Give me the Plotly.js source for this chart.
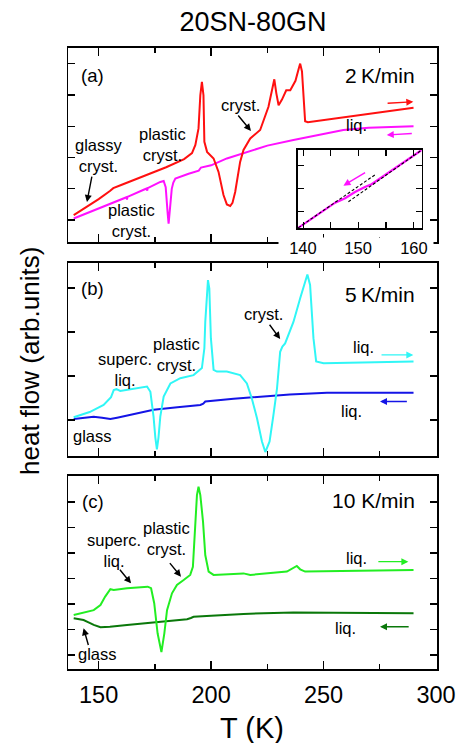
<!DOCTYPE html>
<html><head><meta charset="utf-8">
<script src="https://cdn.plot.ly/plotly-3.0.1.min.js"></script>
<style>html,body{margin:0;padding:0;background:#fff}#chart{width:462px;height:743px}</style>
</head><body><div id="chart"></div>
<script>
// ---------- data (T in K, heat flow in arb. units) ----------
// (a) 2 K/min
const T_a_heat = [138.9,145,150,155,156.5,160,170,180,188,191.5,193.0,194.4,195.2,195.9,196.6,197.0,198.2,201.1,203.3,205.5,207.0,208.5,209.5,210.7,212.9,214.4,217.4,221.8,225.5,227.3,228.1,229.0,230.0,231.5,233.4,235.2,237.5,239.0,239.6,240.4,241.2,241.8,243.0,260.0,290.0];
const Q_a_heat = [0.16,0.44,0.67,0.93,1.02,1.12,1.41,1.69,1.95,2.14,2.40,2.93,3.99,4.42,3.99,2.50,2.18,1.97,1.54,0.80,0.50,0.45,0.55,0.90,1.86,2.24,2.61,2.88,3.62,4.25,4.50,4.05,3.67,3.85,4.15,4.15,4.45,4.85,5.00,4.75,3.90,3.16,3.13,3.30,3.59];
const T_a_cool = [138.9,150,160,162.4,162.6,162.8,170,171.4,171.6,171.8,177.4,178.9,179.8,180.3,180.7,181.1,181.5,181.9,182.5,183.2,184.1,190,194.5,195.5,200,207,213.7,225,236.6,250,258.8,270,290];
const Q_a_cool = [0.05,0.37,0.67,0.73,0.66,0.74,0.97,1.01,0.94,1.02,1.22,1.25,1.05,0.70,0.20,-0.11,0.20,0.70,1.00,1.20,1.33,1.48,1.58,1.68,1.75,1.97,2.13,2.38,2.56,2.75,2.88,2.95,3.00];
// inset of (a)
const T_inset = [139.1,145.8,147.6,149.4,151.2,152.4,161.5];
const Q_inset = [-0.69,0.39,0.58,0.85,1.06,1.18,2.65];
const T_fitLow = [139.1,153.0];
const Q_fitLow = [-0.69,1.58];
const T_fitHigh = [148.2,161.5];
const Q_fitHigh = [0.43,2.65];
const insetTickLabels = [140,150,160];
// (b) 5 K/min
const T_b_heat = [138.9,146,152.2,155.5,156.7,157.9,159.6,165,171.5,173.0,174.4,175.2,175.9,176.6,177.4,178.9,181.9,186.3,192.2,195.9,197.0,197.4,198.2,198.6,199.2,199.9,201.1,202.6,207.0,212.9,215.9,218.1,220.4,222.6,224.1,226.0,227.7,229.3,230.7,231.7,232.9,236.6,239.6,241.8,242.8,244.0,245.5,246.7,250.0,290.0];
const Q_b_heat = [0.06,0.18,0.34,0.52,0.68,0.70,0.66,0.70,0.76,0.64,0.075,-0.40,-0.67,-0.40,0.075,0.53,0.83,0.95,1.02,1.18,1.63,2.23,2.99,3.18,2.99,1.86,1.14,1.10,1.10,1.02,0.83,0.49,0.04,-0.49,-0.73,-0.49,0.11,0.72,1.55,1.67,1.74,2.23,2.77,3.18,3.31,3.07,1.86,1.33,1.29,1.33];
const T_b_cool = [138.9,143,147.8,151.5,155.2,158.2,165,174.4,185,195.2,196.5,197.4,210,221.8,235,251.5,270,290];
const Q_b_cool = [0.02,0.05,0.075,0.05,0.02,0.05,0.12,0.23,0.29,0.34,0.37,0.42,0.48,0.53,0.58,0.62,0.62,0.62];
// (c) 10 K/min
const T_c_heat = [138.9,147.8,150.8,152.9,155.2,156.7,162.6,171.8,173.3,174.7,176.2,177.9,179.2,180.4,182.6,184.8,187.8,190.7,191.9,193.0,193.7,194.4,195.2,196.4,197.4,198.9,201.1,214.4,217.4,233.7,236.6,238.1,239.6,241.8,290.0];
const Q_c_heat = [1.57,1.76,1.96,2.29,2.58,2.55,2.62,2.68,2.62,2.03,0.85,0.11,0.85,1.76,2.42,2.75,2.94,3.14,3.46,5.23,6.27,6.60,6.27,5.23,3.92,3.27,3.14,3.20,3.14,3.27,3.40,3.49,3.36,3.27,3.33];
const T_c_cool = [138.9,141,143.3,145.5,147.8,150.8,155,162.6,177.4,189.3,191.0,192.2,200,214.4,236.6,260,290];
const Q_c_cool = [1.44,1.42,1.37,1.28,1.18,1.09,1.11,1.18,1.31,1.40,1.45,1.50,1.54,1.61,1.67,1.66,1.64];

// ---------- layout helpers ----------
const W = 462, H = 743;
const FONT = 'Liberation Sans, Arial, Helvetica, sans-serif';
const fx = p => p / W;
const fy = p => 1 - p / H;
const XL = 68.3, XR = 436.7;
const panels = [{top:48, bot:242, range:[-0.7,5.5]}, {top:263, bot:456, range:[-0.82,3.57]}, {top:476, bot:669, range:[-0.55,7.02]}];

function mkX(anchor, labels){
  return {domain:[fx(XL), fx(XR)], anchor:anchor, range:[136.5,300.3], tick0:150, dtick:50,
    ticks:'inside', ticklen:8, tickwidth:1.3, tickcolor:'#000', showline:true, linecolor:'#000', linewidth:1.8,
    mirror:'ticks', showgrid:false, zeroline:false, showticklabels:labels, ticklabelstandoff:4,
    tickfont:{size:23.5, color:'#000', family:FONT},
    minor:{tick0:150, dtick:25, ticks:'inside', ticklen:5, tickwidth:1.3, tickcolor:'#000', showgrid:false}};
}
function mkY(anchor, p){
  return {domain:[fy(p.bot), fy(p.top)], anchor:anchor, range:p.range, tick0:0, dtick:1,
    ticks:'inside', ticklen:7, tickwidth:1.3, tickcolor:'#000', showline:true, linecolor:'#000', linewidth:1.8,
    mirror:'ticks', showgrid:false, zeroline:false, showticklabels:false};
}

const line = (x, y, xa, ya, color, w, dash) => ({x:x, y:y, xaxis:xa, yaxis:ya, mode:'lines', hoverinfo:'skip',
  line:{color:color, width:w||2, dash:dash||'solid'}});

const RED='#ff1010', MAG='#ff10ff', CYAN='#30f6f6', BLUE='#1414e6', LGREEN='#22ee22', DGREEN='#0a780a';

const data = [
  line(T_a_cool, Q_a_cool, 'x', 'y', MAG),
  line(T_a_heat, Q_a_heat, 'x', 'y', RED),
  line(T_b_cool, Q_b_cool, 'x2', 'y2', BLUE),
  line(T_b_heat, Q_b_heat, 'x2', 'y2', CYAN),
  line(T_c_cool, Q_c_cool, 'x3', 'y3', DGREEN),
  line(T_c_heat, Q_c_heat, 'x3', 'y3', LGREEN),
  line(T_inset, Q_inset, 'x4', 'y4', MAG, 2.2),
  line(T_fitLow, Q_fitLow, 'x4', 'y4', '#000', 1.1, '3px,2px'),
  line(T_fitHigh, Q_fitHigh, 'x4', 'y4', '#000', 1.1, '3px,2px')
];

const ann = [];
function txt(s, x, y, k, size, xanchor){
  ann.push({text:s, x:x, y:y, xref:'x'+k, yref:'y'+k, showarrow:false, xanchor:xanchor||'center', yanchor:'middle',
    font:{size:size||16.5, color:'#000', family:FONT}});
}
function arr(hx, hy, tx, ty, k, color, head){
  ann.push({text:'', x:hx, y:hy, ax:tx, ay:ty, xref:'x'+k, yref:'y'+k, axref:'x'+k, ayref:'y'+k,
    showarrow:true, arrowhead:head||2, arrowsize:1, arrowwidth:1.4, arrowcolor:color||'#000', standoff:0});
}
// panel (a)
txt('(a)', 147.4, 4.63, '', 18.5);
txt('2\u2009K/min', 291.4, 4.63, '', 21, 'right');
txt('glassy<br>cryst.', 150.0, 2.05, '');
txt('plastic<br>cryst.', 178.5, 2.43, '');
txt('plastic<br>cryst.', 164.8, -0.02, '');
txt('cryst.', 212.9, 3.67, '');
txt('liq.', 264.8, 3.04, '');
arr(144.8, 0.58, 147.1, 1.44, '');
arr(217.7, 2.85, 211.5, 3.39, '');
arr(289.9, 3.78, 277.8, 3.73, '', RED);
arr(278.1, 2.72, 289.9, 2.77, '', MAG);
arr(147.3, 1.12, 151.5, 1.72, '4', MAG);
// panel (b)
txt('(b)', 147.4, 2.99, '2', 18.5);
txt('5\u2009K/min', 291.4, 2.86, '2', 21, 'right');
txt('superc.<br>liq.', 161.5, 1.15, '2');
txt('plastic<br>cryst.', 184.7, 1.49, '2');
txt('cryst.', 223.4, 2.41, '2');
txt('liq.', 267.7, 1.65, '2');
txt('liq.', 262.2, 0.21, '2');
txt('glass', 147.1, -0.36, '2');
arr(230.7, 1.84, 225.5, 2.20, '2');
arr(289.9, 1.48, 275.1, 1.48, '2', CYAN);
arr(275.1, 0.42, 287.7, 0.42, '2', BLUE);
// panel (c)
txt('(c)', 147.4, 6.01, '3', 18.5);
txt('10 K/min', 291.4, 6.05, '3', 21, 'right');
txt('superc.<br>liq.', 156.9, 4.10, '3');
txt('plastic<br>cryst.', 180.3, 4.58, '3');
txt('glass', 149.3, 0.04, '3');
txt('liq.', 264.8, 3.82, '3');
txt('liq.', 259.6, 1.05, '3');
arr(164.4, 2.81, 158.9, 3.40, '3');
arr(186.6, 3.07, 181.1, 3.66, '3');
arr(143.3, 1.05, 145.6, 0.33, '3');
arr(287.7, 3.66, 273.7, 3.66, '3', LGREEN);
arr(275.1, 1.11, 288.5, 1.11, '3', DGREEN);
// inset tick labels (white background hides the panel border behind them)
const pads = [['\u00a0\u00a0','\u00a0\u00a0'], ['\u00a0\u00a0\u00a0\u00a0','\u00a0\u00a0\u00a0\u00a0'], ['\u00a0\u00a0','\u00a0']];
const shifts = [0, 0, -2.2];
insetTickLabels.forEach((v, i) => {
  ann.push({text:pads[i][0] + v + pads[i][1], x:v, xref:'x4', y:fy(248), yref:'paper', showarrow:false,
    xanchor:'center', yanchor:'middle', xshift:shifts[i], bgcolor:'#fff', borderpad:1,
    font:{size:16.5, color:'#000', family:FONT}});
});
// axis titles
ann.push({text:'T (K)', x:fx(252), y:fy(728), xref:'paper', yref:'paper', showarrow:false, xanchor:'center', yanchor:'middle',
  font:{size:29, color:'#000', family:FONT}});
ann.push({text:'heat flow (arb.units)', x:fx(29.5), y:fy(361.5), xref:'paper', yref:'paper', showarrow:false, textangle:-90,
  xanchor:'center', yanchor:'middle', font:{size:26, color:'#000', family:FONT}});

const layout = {
  width:W, height:H, margin:{l:0, r:0, t:0, b:0, pad:0}, showlegend:false,
  paper_bgcolor:'#fff', plot_bgcolor:'rgba(0,0,0,0)', font:{family:FONT, color:'#000'},
  title:{text:'20SN-80GN', font:{size:27, color:'#000', family:FONT}, x:fx(253), xref:'container', xanchor:'center',
    y:fy(22), yref:'container', yanchor:'middle'},
  xaxis:mkX('y', false), yaxis:mkY('x', panels[0]),
  xaxis2:mkX('y2', false), yaxis2:mkY('x2', panels[1]),
  xaxis3:mkX('y3', true), yaxis3:mkY('x3', panels[2]),
  xaxis4:{domain:[fx(297.7), fx(421.7)], anchor:'y4', range:[139.0,161.5], tick0:140, dtick:5, ticks:'inside', ticklen:6,
    tickwidth:1.3, tickcolor:'#000', showline:true, linecolor:'#000', linewidth:1.6, mirror:'ticks', showgrid:false,
    zeroline:false, showticklabels:false},
  yaxis4:{domain:[fy(228.3), fy(150)], anchor:'x4', range:[-0.71,2.65], tick0:0, dtick:1, ticks:'inside', ticklen:6,
    tickwidth:1.3, tickcolor:'#000', showline:true, linecolor:'#000', linewidth:1.6, mirror:'ticks', showgrid:false,
    zeroline:false, showticklabels:false},
  annotations:ann
};
Plotly.newPlot('chart', data, layout, {staticPlot:true, displayModeBar:false});
</script></body></html>
